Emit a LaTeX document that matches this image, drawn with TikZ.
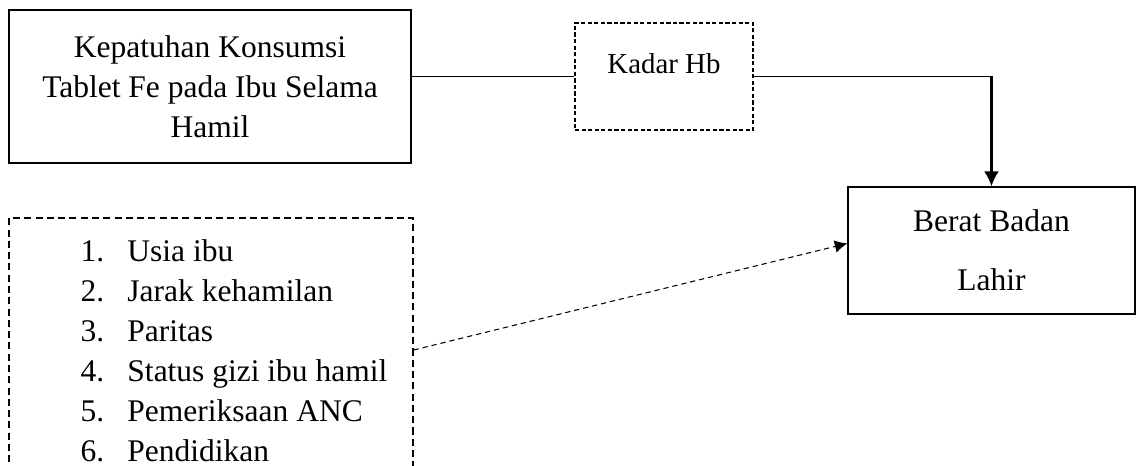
\documentclass[tikz,border=0pt]{standalone}
\usepackage{fontspec}
\setmainfont{Liberation Serif}
\usetikzlibrary{arrows.meta}
\usetikzlibrary{calc}
\tikzset{>={Latex[length=5.7pt,width=5.7pt]}}
\tikzstyle{solidbox}=[draw,line width=0.5pt,align=center,font=\fontsize{12}{15.24}\selectfont]
\tikzstyle{dashbox}=[draw,line width=0.5pt,dash pattern=on 1.6pt off 0.9pt]
\tikzstyle{listbox}=[draw,line width=0.5pt,dash pattern=on 2.7pt off 1.6pt]
\tikzstyle{dashline}=[line width=0.4pt,dash pattern=on 2pt off 1.5pt]

\begin{document}
\begin{tikzpicture}[x=0.381pt,y=-0.381pt]
  \useasboundingbox (0,0) rectangle (1136,466);

  \node[solidbox,minimum width=153.2pt,minimum height=58.3pt] (kepatuhan) at (210,86.5)
    {Kepatuhan Konsumsi\\Tablet Fe pada Ibu Selama\\Hamil};
  \node[dashbox,minimum width=67.8pt,minimum height=40.8pt,font=\fontsize{11}{13}\selectfont,text depth=10.2pt] (kadar) at (664,76.5) {Kadar Hb};
  \node[solidbox,minimum width=109.3pt,minimum height=48.4pt,font=\fontsize{12}{22.5}\selectfont] (berat) at (991.5,250.5)
    {Berat Badan\\Lahir};
  \node[listbox,minimum width=153.9pt,minimum height=100.6pt] (faktor) at (211,350) {};
  \node[anchor=base west,inner sep=0pt,font=\fontsize{12}{15.24}\selectfont] (daftar) at (80,262)
    {\begin{tabular}[t]{@{}l@{\hspace{8.9pt}}l@{}}
      1. & Usia ibu\\
      2. & Jarak kehamilan\\
      3. & Paritas\\
      4. & Status gizi ibu hamil\\
      5. & Pemeriksaan ANC\\
      6. & Pendidikan
    \end{tabular}};

  \draw[line width=0.75pt] (kadar.west -| kepatuhan.east) -- (kadar.west);
  \draw[line width=0.4pt] (kadar.east) -- (kadar.east -| berat.north) coordinate (belok);
  \draw[->,line width=0.9pt] (belok) -- (berat.north);
  \draw[->,>={Latex[length=4.8pt,width=4.8pt]},dashline] (faktor.east) -- ([yshift=2.7pt]berat.west);
\end{tikzpicture}
\end{document}
